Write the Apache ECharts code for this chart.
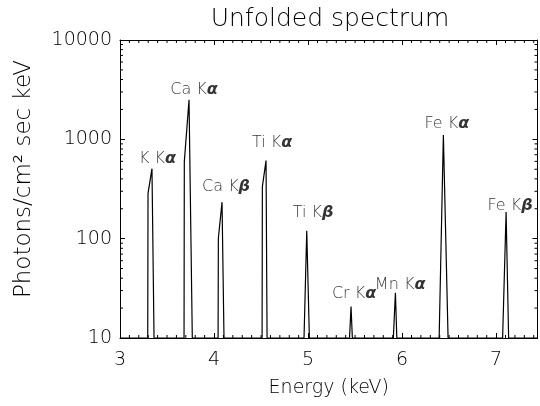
<!DOCTYPE html>
<html><head><meta charset="utf-8">
<script src="https://cdn.jsdelivr.net/npm/echarts@6/dist/echarts.min.js"></script>
<style>html,body{margin:0;padding:0;background:#fff}#c{width:540px;height:406px}</style>
</head><body><div id="c"></div>
<script>
// Spectrum (energy in keV, flux in Photons/cm^2 sec keV); 10 = floor of plot
const energy = [3.0, 3.295, 3.298, 3.340, 3.362, 3.681, 3.684, 3.734, 3.769, 4.043, 4.046, 4.085, 4.106,
  4.511, 4.514, 4.553, 4.564, 4.957, 4.986, 5.014, 5.441, 5.457, 5.471, 5.907, 5.929, 5.944,
  6.394, 6.439, 6.489, 7.069, 7.106, 7.133, 7.44];
const flux = [10, 10, 286, 507, 10, 10, 596, 2500, 10, 10, 101, 233, 10,
  10, 334, 611, 10, 10, 120, 10, 10, 20.7, 10, 10, 28.6, 10,
  10, 1107, 10, 10, 185, 10, 10];
// Line labels
const lineElem = ['K', 'Ca', 'Ca', 'Ti', 'Ti', 'Cr', 'Mn', 'Fe', 'Fe'];
const lineGreek = ['α', 'α', 'β', 'α', 'β', 'α', 'α', 'α', 'β'];
const labelE = [3.399, 3.787, 4.128, 4.617, 5.054, 5.489, 5.979, 6.476, 7.149];
const labelV = [636, 3140, 334, 920, 184, 27.7, 34.2, 1429, 213];
// Axis ticks
const xMin = 3, xMax = 7.44, xMajor = 1;
const yMin = 10, yMax = 10000;
const xMinorTicks = [];
for (let i = 30; i <= 74; i++) { if (i % 10 !== 0) xMinorTicks.push(i / 10); }
const yMinorTicks = [];
[10, 100, 1000].forEach(d => { for (let m = 2; m <= 9; m++) yMinorTicks.push(m * d); });

const FONT = 'DejaVu Sans';
const FW = 200;
const chart = echarts.init(document.getElementById('c'), null, {renderer: 'canvas'});
const tickLine = {show: true, inside: true, length: 5, lineStyle: {color: '#000', width: 1}};
const axLine = {show: true, lineStyle: {color: '#000', width: 1}};
const option = {
  animation: false,
  backgroundColor: '#fff',
  grid: {left: 120, right: 2.5, top: 40, bottom: 68, containLabel: false},
  graphic: [{
    type: 'text', x: 330, y: 19,
    style: {text: 'Unfolded spectrum', fontFamily: FONT, fontSize: 25, fontWeight: FW, fill: '#000', align: 'center', verticalAlign: 'middle'}
  }, {
    type: 'text', x: 24, y: 179, rotation: Math.PI / 2,
    style: {text: 'Photons/cm² sec keV', fontFamily: FONT, fontSize: 23, fontWeight: FW, fill: '#000', align: 'center', verticalAlign: 'middle'}
  }],
  xAxis: [{
    type: 'value', min: xMin, max: xMax, interval: xMajor, position: 'bottom',
    axisLine: axLine, axisTick: tickLine, splitLine: {show: false},
    axisLabel: {show: true, color: '#000', fontFamily: FONT, fontWeight: FW, fontSize: 19, margin: 13, showMaxLabel: false},
    name: 'Energy (keV)', nameLocation: 'middle', nameGap: 41,
    nameTextStyle: {color: '#000', fontFamily: FONT, fontWeight: FW, fontSize: 19}
  }, {
    type: 'value', min: xMin, max: xMax, interval: xMajor, position: 'top',
    axisLine: axLine, axisTick: tickLine, splitLine: {show: false}, axisLabel: {show: false}
  }],
  yAxis: [{
    type: 'log', logBase: 10, min: yMin, max: yMax, position: 'left',
    axisLine: axLine, axisTick: tickLine, splitLine: {show: false},
    axisLabel: {show: true, color: '#000', fontFamily: FONT, fontWeight: FW, fontSize: 19, margin: 8,
      formatter: v => String(Math.round(v))}
  }, {
    type: 'log', logBase: 10, min: yMin, max: yMax, position: 'right',
    axisLine: axLine, axisTick: tickLine, splitLine: {show: false}, axisLabel: {show: false}
  }],
  series: [{
    type: 'line', xAxisIndex: 0, yAxisIndex: 0,
    data: energy.map((e, i) => [e, flux[i]]),
    showSymbol: false, symbol: 'none', clip: true,
    lineStyle: {color: '#000', width: 1.2}
  }, {
    type: 'scatter', xAxisIndex: 0, yAxisIndex: 0, symbolSize: 0,
    data: labelE.map((e, i) => [e, labelV[i]]),
    label: {
      show: true, position: 'inside', color: '#000', fontFamily: FONT, fontWeight: FW, fontSize: 16,
      formatter: p => lineElem[p.dataIndex] + ' K{g|' + lineGreek[p.dataIndex] + '}',
      rich: {g: {fontFamily: FONT, fontSize: 16, fontWeight: 'bold', fontStyle: 'italic', color: '#000'}}
    }
  }, {
    type: 'custom', xAxisIndex: 0, yAxisIndex: 0, clip: false, silent: true,
    data: yMinorTicks.map(v => [xMin, v]),
    renderItem: (params, api) => {
      const v = api.value(1);
      const a = api.coord([xMin, v]), b = api.coord([xMax, v]);
      const st = {stroke: '#000', lineWidth: 1};
      return {type: 'group', children: [
        {type: 'line', shape: {x1: a[0], y1: a[1], x2: a[0] + 3, y2: a[1]}, style: st},
        {type: 'line', shape: {x1: b[0], y1: b[1], x2: b[0] - 3, y2: b[1]}, style: st}
      ]};
    }
  }, {
    type: 'custom', xAxisIndex: 0, yAxisIndex: 0, clip: false, silent: true,
    data: xMinorTicks.map(e => [e, yMin]),
    renderItem: (params, api) => {
      const e = api.value(0);
      const a = api.coord([e, yMin]), b = api.coord([e, yMax]);
      const st = {stroke: '#000', lineWidth: 1};
      return {type: 'group', children: [
        {type: 'line', shape: {x1: a[0], y1: a[1], x2: a[0], y2: a[1] - 3}, style: st},
        {type: 'line', shape: {x1: b[0], y1: b[1], x2: b[0], y2: b[1] + 3}, style: st}
      ]};
    }
  }]
};
chart.setOption(option);
</script></body></html>
